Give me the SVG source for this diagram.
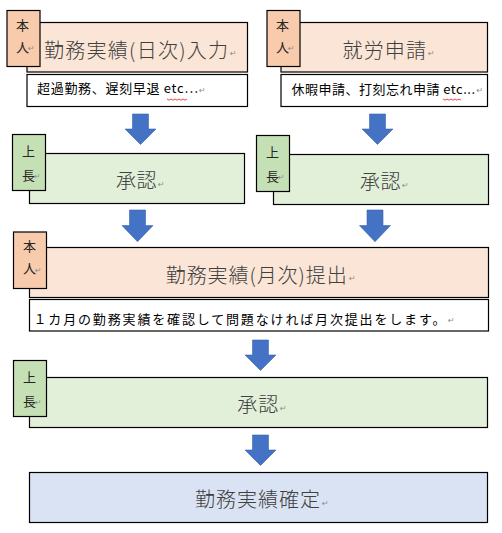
<svg xmlns="http://www.w3.org/2000/svg" width="502" height="533" viewBox="0 0 502 533">
<style>
.bg{fill:#ffffff}
.orange{fill:#fbe5d6;stroke:#000;stroke-width:1.2}
.otag{fill:#f8cbad;stroke:#000;stroke-width:1.2}
.green{fill:#e2f0d9;stroke:#000;stroke-width:1.2}
.gtag{fill:#c5e0b4;stroke:#000;stroke-width:1.2}
.blue{fill:#dae3f3;stroke:#000;stroke-width:1.2}
.note{fill:#ffffff;stroke:#000;stroke-width:1.2}
.main{font-family:"Noto Sans CJK JP","Noto Sans",sans-serif;font-size:20px;font-weight:300;fill:#404040}
.sub{font-family:"Noto Sans CJK JP","Noto Sans",sans-serif;font-size:13px;fill:#000}
.tag{font-family:"Noto Sans CJK JP","Noto Sans",sans-serif;font-size:13px;fill:#262626}
.pm{font-family:"DejaVu Sans",sans-serif;font-size:8px;fill:#8c8c8c}
.fw{font-feature-settings:"fwid"}
.arrow{fill:#4472c4;stroke:#3b64ad;stroke-width:0.6}
.squig{fill:none;stroke:#e03030;stroke-width:0.9}
</style>
<defs>
<path id="arw" d="M-8,0 H8 V15 H15.5 L0,30.5 L-15.5,15 H-8 Z"/>
</defs>
<rect class="bg" x="0" y="0" width="502" height="533"/>

<g id="connectors">
<use href="#arw" class="arrow" transform="translate(140.5,114)"/>
<use href="#arw" class="arrow" transform="translate(377.5,114)"/>
<use href="#arw" class="arrow" transform="translate(137.5,210) scale(1,1.04)"/>
<use href="#arw" class="arrow" transform="translate(375,210) scale(1,1.04)"/>
<use href="#arw" class="arrow" transform="translate(260.5,340)"/>
<use href="#arw" class="arrow" transform="translate(260.5,435)"/>
</g>

<g id="daily-input">
<rect class="orange" x="27" y="22.5" width="220.5" height="49.5"/>
<text class="main" x="44" y="57.5" textLength="184" lengthAdjust="spacing">勤務実績(日次)入力</text>
<text class="pm" x="230" y="56">↵</text>
<rect class="otag" x="7" y="10.5" width="33" height="56"/>
<text class="tag" x="16" y="29.5">本</text>
<text class="tag" x="16" y="51.5">人</text>
<text class="pm" x="28" y="51">↵</text>
</g>

<g id="daily-note">
<rect class="note" x="27" y="74.5" width="220.5" height="32"/>
<text class="sub" x="37" y="93" textLength="161" lengthAdjust="spacing">超過勤務、遅刻早退 etc<tspan class="fw">…</tspan></text>
<text class="pm" x="199" y="93">↵</text>
<path class="squig" d="M167,99 l2,1.2 l2,-1.2 l2,1.2 l2,-1.2 l2,1.2 l2,-1.2 l2,1.2 l2,-1.2 l2,1.2 l2,-1.2"/>
</g>

<g id="leave-request">
<rect class="orange" x="281" y="22.5" width="206.5" height="49.5"/>
<text class="main" x="342.5" y="57.5" font-size="21" textLength="83.5" lengthAdjust="spacing">就労申請</text>
<text class="pm" x="428" y="56">↵</text>
<rect class="otag" x="267" y="10.5" width="33" height="56"/>
<text class="tag" x="276" y="29.5">本</text>
<text class="tag" x="276" y="51.5">人</text>
<text class="pm" x="288" y="51">↵</text>
</g>

<g id="leave-note">
<rect class="note" x="281" y="74.5" width="206.5" height="32"/>
<text class="sub" x="291.5" y="93.5" textLength="183.5" lengthAdjust="spacing">休暇申請、打刻忘れ申請 etc...</text>
<text class="pm" x="476.5" y="93">↵</text>
<path class="squig" d="M443,99 l2,1.2 l2,-1.2 l2,1.2 l2,-1.2 l2,1.2 l2,-1.2 l2,1.2 l2,-1.2 l2,1.2"/>
</g>

<g id="approve-daily">
<rect class="green" x="29.5" y="153.5" width="215" height="50"/>
<text class="main" x="116" y="187.5" textLength="40.5" lengthAdjust="spacing">承認</text>
<text class="pm" x="158" y="187">↵</text>
<rect class="gtag" x="12.5" y="134.5" width="33" height="56"/>
<text class="tag" x="22" y="155.5">上</text>
<text class="tag" x="22" y="179.5">長</text>
<text class="pm" x="34" y="179">↵</text>
</g>

<g id="approve-request">
<rect class="green" x="273.5" y="154.5" width="215" height="50"/>
<text class="main" x="360" y="188.5" textLength="40.5" lengthAdjust="spacing">承認</text>
<text class="pm" x="402" y="188">↵</text>
<rect class="gtag" x="256.5" y="135.5" width="33" height="56"/>
<text class="tag" x="266" y="156.5">上</text>
<text class="tag" x="266" y="180.5">長</text>
<text class="pm" x="278" y="180">↵</text>
</g>

<g id="monthly-submit">
<rect class="orange" x="29.5" y="247.5" width="459" height="50"/>
<text class="main" x="165.7" y="282.5" textLength="181" lengthAdjust="spacing">勤務実績(月次)提出</text>
<text class="pm" x="349" y="281">↵</text>
<rect class="otag" x="13.5" y="232" width="33" height="56.5"/>
<text class="tag" x="23" y="251">本</text>
<text class="tag" x="23" y="273">人</text>
<text class="pm" x="35" y="272.5">↵</text>
</g>

<g id="monthly-note">
<rect class="note" x="29.5" y="299.5" width="459" height="31.5"/>
<text class="sub" x="33.5" y="323.5" textLength="412" lengthAdjust="spacing">１カ月の勤務実績を確認して問題なければ月次提出をします。</text>
<text class="pm" x="448" y="323">↵</text>
</g>

<g id="approve-monthly">
<rect class="green" x="29.5" y="377.5" width="458" height="50"/>
<text class="main" x="237.3" y="411.5" textLength="41" lengthAdjust="spacing">承認</text>
<text class="pm" x="280" y="411">↵</text>
<rect class="gtag" x="13.5" y="360.5" width="33" height="56"/>
<text class="tag" x="23" y="381.5">上</text>
<text class="tag" x="23" y="405.5">長</text>
<text class="pm" x="35" y="405">↵</text>
</g>

<g id="confirmed">
<rect class="blue" x="29.5" y="472.5" width="458" height="50"/>
<text class="main" x="195" y="506.5" font-size="21" textLength="125" lengthAdjust="spacing">勤務実績確定</text>
<text class="pm" x="322" y="505.5">↵</text>
</g>
</svg>
